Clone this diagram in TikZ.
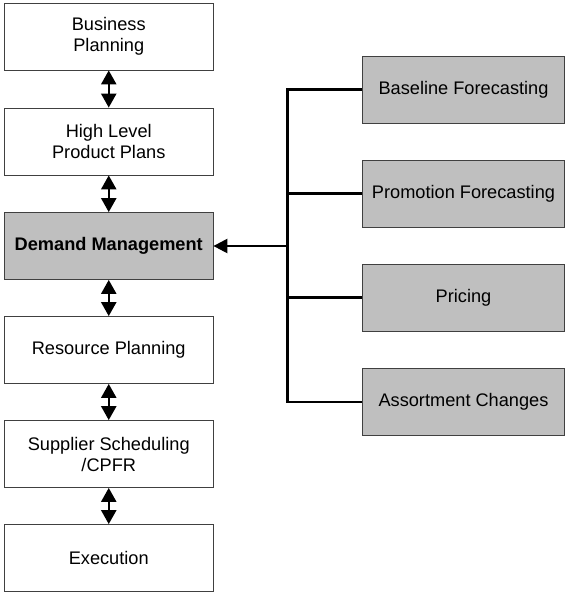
\documentclass[tikz,border=0pt]{standalone}
\usepackage{fontspec}
\setmainfont{Liberation Sans}
\usetikzlibrary{arrows.meta}
\begin{document}
\begin{tikzpicture}[x=1pt,y=-1pt,
  box/.style={draw=black!75, line width=0.8pt, minimum width=208.5pt,
    minimum height=67pt, inner sep=0pt, align=center,
    font=\fontsize{18.2}{21}\selectfont},
  side/.style={box, fill=black!25, minimum width=202pt},
  hub/.style={box, fill=black!25, font=\fontsize{18.2}{21}\selectfont\bfseries},
  link/.style={line width=2.4pt, line join=miter},
  both/.style={line width=2.4pt,
    {Triangle[width=15pt,length=14pt]}-{Triangle[width=15pt,length=14pt]}},
  feed/.style={line width=2.4pt, -{Triangle[width=14pt,length=14pt]}}]
\useasboundingbox (0,0) rectangle (565,592);

% planning chain
\node[box] (b1) at (108.75,36.5)  {Business\\Planning};
\node[box] (b2) at (108.75,141.5) {High Level\\Product Plans};
\node[hub] (b3) at (108.75,246)   {Demand Management};
\node[box] (b4) at (108.75,350)   {Resource Planning};
\node[box] (b5) at (108.75,454)   {Supplier Scheduling\\/CPFR};
\node[box] (b6) at (108.75,558)   {Execution};

\draw[both] (b1.south) -- (b2.north);
\draw[both] (b2.south) -- (b3.north);
\draw[both] (b3.south) -- (b4.north);
\draw[both] (b4.south) -- (b5.north);
\draw[both] (b5.south) -- (b6.north);

% demand inputs
\node[side] (r1) at (463.5,89.5)  {Baseline Forecasting};
\node[side] (r2) at (463.5,193.5) {Promotion Forecasting};
\node[side] (r3) at (463.5,297.5) {Pricing};
\node[side] (r4) at (463.5,402)   {Assortment Changes};

\coordinate (bus) at (287.5,246);
\draw[link] (r1.west) -- (r1.west -| bus) -- (r4.west -| bus) -- (r4.west);
\draw[link] (r2.west) -- (r2.west -| bus);
\draw[link] (r3.west) -- (r3.west -| bus);
\draw[feed] (bus) -- (b3.east);
\end{tikzpicture}
\end{document}
